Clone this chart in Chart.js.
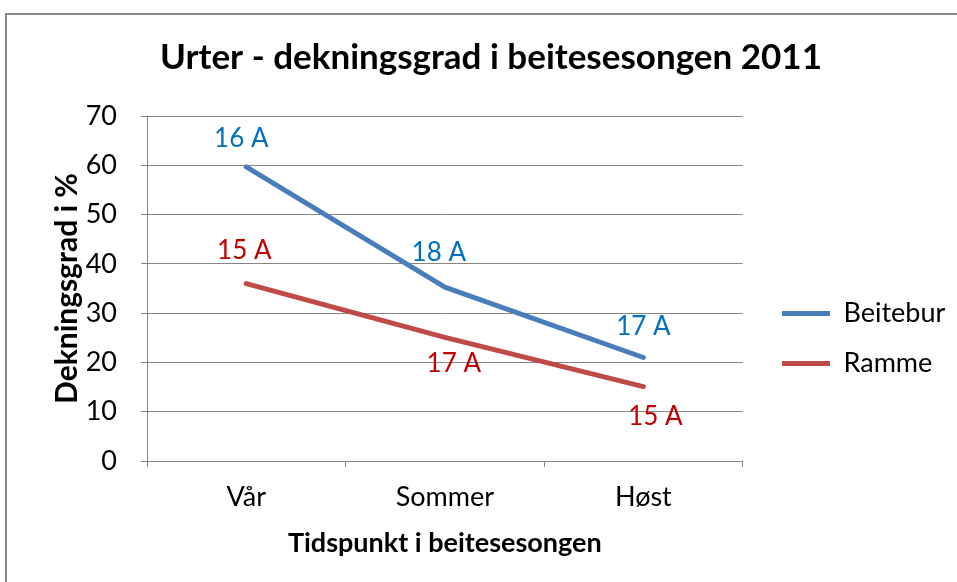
<!DOCTYPE html>
<html lang="no">
<head>
  <meta charset="UTF-8" />
  <title>Urter - dekningsgrad</title>
  <script src="https://cdn.jsdelivr.net/npm/chart.js"></script>
  <style>
    html, body { margin: 0; padding: 0; background: #fff; overflow: hidden; }
    .frame { position: absolute; left: 5px; top: 13px; width: 1000px; height: 1000px; border: 2px solid #878787; }
    .wrap { position: absolute; left: 0; top: 0; width: 957px; height: 582px; }
  </style>
</head>
<body>
  <div class="frame"></div>
  <div class="wrap"><canvas id="chart" width="957" height="582"></canvas></div>

  <script>
    // data
    const categories = ["Vår", "Sommer", "Høst"];
    const beitebur = [59.7, 35.3, 21.0];
    const ramme = [36.0, 25.1, 15.1];
    const beiteburLabels = ["16 A", "18 A", "17 A"];
    const rammeLabels = ["15 A", "17 A", "15 A"];
    const yTicks = [0, 10, 20, 30, 40, 50, 60, 70];

    // label nudges relative to each point (px), style only
    const beiteburNudge = [[-5, -28], [-6, -34], [0, -31]];
    const rammeNudge = [[-2, -33], [9, 26], [12, 30]];

    const FONT = "Lato";
    const grey = "#868686";

    const pointLabels = {
      id: "pointLabels",
      afterDatasetsDraw(chart) {
        const ctx = chart.ctx;
        ctx.save();
        ctx.font = "26px " + FONT;
        ctx.textAlign = "center";
        ctx.textBaseline = "middle";
        chart.data.datasets.forEach((ds, i) => {
          const meta = chart.getDatasetMeta(i);
          meta.data.forEach((pt, j) => {
            const n = ds.nudge[j];
            ctx.fillStyle = ds.labelColor;
            ctx.fillText(ds.labels[j], pt.x + n[0], pt.y + n[1]);
          });
        });
        ctx.restore();
      }
    };

    // park the legend where Excel had it
    const moveLegend = {
      id: "moveLegend",
      afterLayout(chart) {
        const lg = chart.legend;
        const w = lg.right - lg.left, h = lg.bottom - lg.top;
        lg.left = 759; lg.right = lg.left + w;
        lg.top = 277; lg.bottom = lg.top + h;
      }
    };

    new Chart(document.getElementById("chart"), {
      type: "line",
      data: {
        labels: categories,
        datasets: [
          { label: "Beitebur", data: beitebur, borderColor: "#4A7EBB", backgroundColor: "#4A7EBB",
            borderWidth: 5, pointRadius: 0, borderCapStyle: "round", borderJoinStyle: "round",
            labels: beiteburLabels, labelColor: "#0070C0", nudge: beiteburNudge },
          { label: "Ramme", data: ramme, borderColor: "#BE4B48", backgroundColor: "#BE4B48",
            borderWidth: 5, pointRadius: 0, borderCapStyle: "round", borderJoinStyle: "round",
            labels: rammeLabels, labelColor: "#C00000", nudge: rammeNudge }
        ]
      },
      options: {
        responsive: false,
        animation: false,
        layout: { padding: { left: 43, right: 18, top: 0, bottom: 0 } },
        plugins: {
          title: {
            display: true,
            text: "Urter - dekningsgrad i beitesesongen 2011",
            color: "#000",
            font: { family: FONT, size: 35, weight: "bold" },
            padding: { top: 37, bottom: 37 }
          },
          legend: {
            position: "right",
            align: "start",
            labels: {
              color: "#000",
              font: { family: FONT, size: 27 },
              usePointStyle: true,
              pointStyle: "line",
              pointStyleWidth: 48,
              padding: 23
            }
          },
          tooltip: { enabled: false }
        },
        scales: {
          x: {
            offset: true,
            grid: { display: true, drawOnChartArea: false, drawTicks: true, tickLength: 6, offset: true, color: grey },
            border: { color: grey, width: 1 },
            ticks: { color: "#000", font: { family: FONT, size: 27 }, padding: 14 },
            title: { display: true, text: "Tidspunkt i beitesesongen", color: "#000",
                     font: { family: FONT, size: 27, weight: "bold" }, padding: { top: 0, bottom: 23 } },
            afterFit(scale) { scale.height = 121; }
          },
          y: {
            min: 0, max: 70,
            afterBuildTicks(scale) { scale.ticks = yTicks.map(v => ({ value: v })); },
            grid: { color: grey, tickLength: 6 },
            border: { color: grey, width: 1 },
            ticks: { color: "#000", font: { family: FONT, size: 27 }, padding: 24 },
            title: { display: true, text: "Dekningsgrad i %", color: "#000",
                     font: { family: FONT, size: 30, weight: "bold" }, padding: { top: 6, bottom: 0 } },
            afterFit(scale) { scale.width = 104; }
          }
        }
      },
      plugins: [pointLabels, moveLegend]
    });
  </script>
</body>
</html>
